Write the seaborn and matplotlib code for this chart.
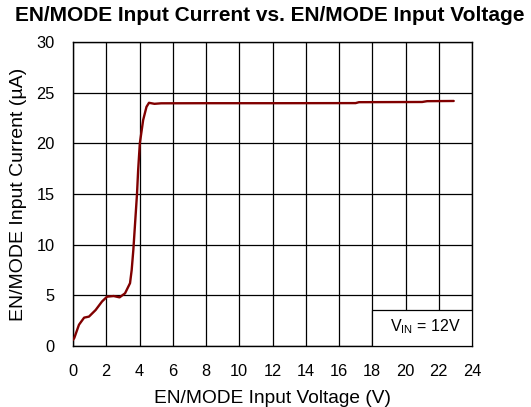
import pandas as pd
import matplotlib
matplotlib.use("Agg")
import matplotlib.pyplot as plt
import seaborn as sns
from matplotlib.patches import Rectangle

# EN/MODE input voltage (V) and input current (uA)
voltage = [0.0, 0.08, 0.36, 0.67, 0.96, 1.36, 1.75, 2.05, 2.45, 2.8, 3.13, 3.43,
           3.53, 3.63, 3.75, 3.85, 3.92, 4.02, 4.22, 4.42, 4.57, 4.9, 5.3,
           8.0, 12.0, 17.0, 17.2, 21.0, 21.3, 22.9]
current = [0.6, 0.8, 2.1, 2.8, 2.9, 3.55, 4.4, 4.87, 4.93, 4.8, 5.2, 6.2,
           7.5, 9.5, 12.5, 15.0, 17.4, 20.0, 22.3, 23.6, 24.0, 23.9, 23.95,
           23.96, 23.96, 23.97, 24.06, 24.08, 24.16, 24.18]

x_ticks = list(range(0, 25, 2))
y_ticks = list(range(0, 31, 5))

title = "EN/MODE Input Current vs. EN/MODE Input Voltage"
x_label = "EN/MODE Input Voltage (V)"
y_label = "EN/MODE Input Current (µA)"
note = r"V$_{\mathregular{IN}}$ = 12V"

df = pd.DataFrame({"voltage": voltage, "current": current})

sns.set_style("white")
plt.rcParams["font.family"] = ["Liberation Sans", "DejaVu Sans"]
plt.rcParams["mathtext.fontset"] = "custom"
plt.rcParams["mathtext.rm"] = "Liberation Sans"
plt.rcParams["text.color"] = "black"
plt.rcParams["axes.labelcolor"] = "black"

fig = plt.figure(figsize=(5.31, 4.07), dpi=100)
ax = fig.add_axes([73 / 531, 1 - 346 / 407, 399 / 531, 304 / 407])

sns.lineplot(data=df, x="voltage", y="current", color="#800000", linewidth=1.7, ax=ax, zorder=3)

ax.set_xlim(0, 24)
ax.set_ylim(0, 30)
ax.set_xticks(x_ticks)
ax.set_yticks(y_ticks)
ax.grid(True, color="black", linewidth=0.9)
ax.set_axisbelow(True)
for s in ax.spines.values():
    s.set_color("black")
    s.set_linewidth(1.0)
ax.tick_params(axis="x", length=0, labelsize=11.8, pad=13, colors="black")
ax.tick_params(axis="y", length=0, labelsize=11.8, pad=13, colors="black")

# white note box in the lower right corner, covering the grid
ax.add_patch(Rectangle((18.0, 0), 6.0, 3.55, facecolor="white", edgecolor="black",
                       linewidth=0.9, zorder=4))
ax.text(21.2, 1.9, note, ha="center", va="center", fontsize=11.5, zorder=5)

ax.set_xlabel(x_label, fontsize=13.8, labelpad=8)
ax.set_ylabel(y_label, fontsize=14, labelpad=7)
fig.suptitle(title, fontsize=15, fontweight="bold", x=0.508, y=0.985)

fig.savefig("out.png", dpi=100)
